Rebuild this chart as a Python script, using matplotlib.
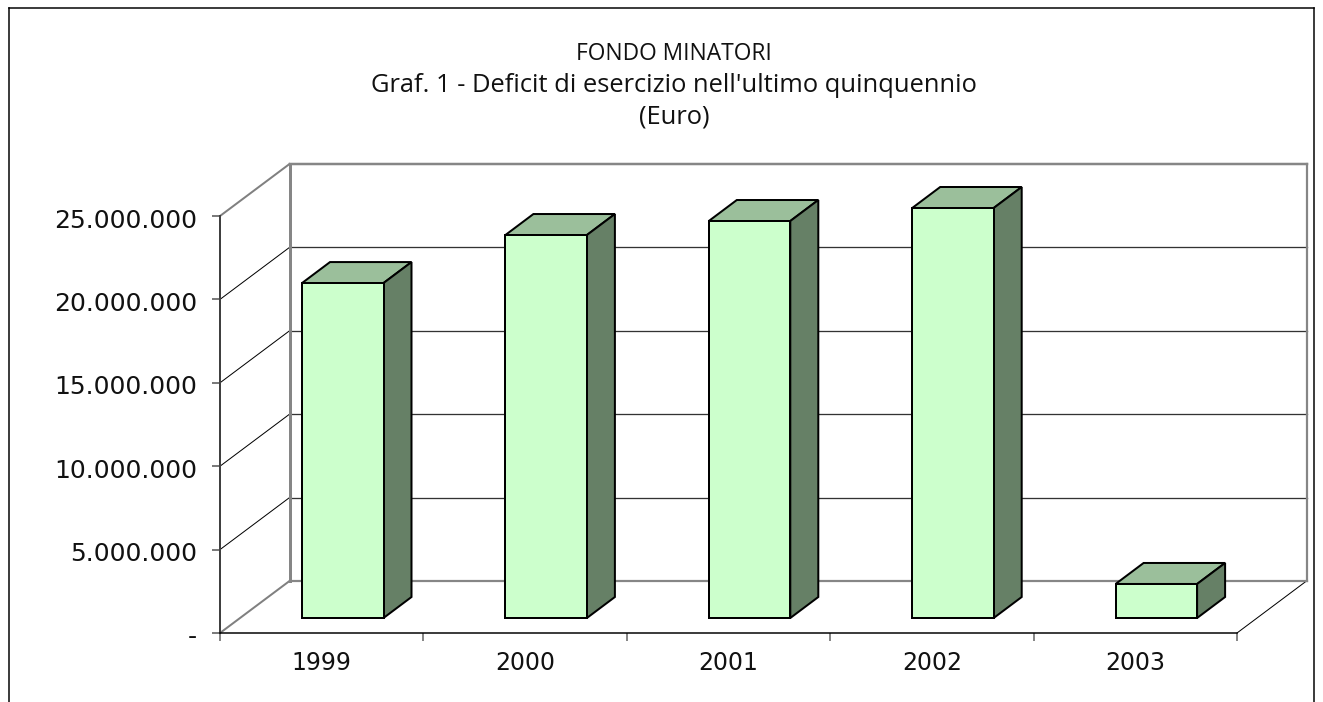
import matplotlib
matplotlib.use('Agg')

from matplotlib import pyplot as plt
from matplotlib.lines import Line2D
from matplotlib.patches import Polygon
from matplotlib.transforms import ScaledTranslation

years = ['1999', '2000', '2001', '2002', '2003']
deficit = [20080000, 22960000, 23800000, 24580000, 2040000]
y_ticks = [0, 5000000, 10000000, 15000000, 20000000, 25000000]
y_labels = ['-', '5.000.000', '10.000.000', '15.000.000', '20.000.000', '25.000.000']
title_lines = ['FONDO MINATORI',
               "Graf. 1 - Deficit di esercizio nell'ultimo quinquennio",
               '(Euro)']

W, H = 1323, 702
px = 0.72  # one pixel in points at dpi 100

fig = plt.figure(figsize=(W / 100, H / 100), dpi=100)
ax = fig.add_axes([220 / W, 1 - 633 / H, 1017 / W, 417 / H])
ax.set_xlim(0, 5)
ax.set_ylim(0, 25000000)

# pixel sizes turned into data units
unit_x = 1017 / 5
unit_y = 417 / 25000000
wall_dx, wall_dy = 69.5 / unit_x, 52 / unit_y
bar_dx, bar_dy = 28 / unit_x, 21 / unit_y
bar_left, bar_w = 82 / unit_x, 81.5 / unit_x
bar_base = 15 / unit_y


def line(xs, ys, color='black', lw=1.0, z=1):
    ax.plot(xs, ys, color=color, lw=lw * px, clip_on=False, zorder=z,
            solid_capstyle='projecting')


# gridlines, back wall and side wall
for v in y_ticks[1:-1]:
    line([0, wall_dx], [v, v + wall_dy], lw=1)
    line([wall_dx, 5 + wall_dx], [v + wall_dy, v + wall_dy], color='#333333', lw=1.3)
line([0, wall_dx], [25000000, 25000000 + wall_dy], color='#808080', lw=2)
line([0, wall_dx], [0, wall_dy], color='#808080', lw=2)
line([5, 5 + wall_dx], [0, wall_dy], lw=1)
line([wall_dx, wall_dx], [wall_dy, 25000000 + wall_dy], color='#868686', lw=3)
line([5 + wall_dx, 5 + wall_dx], [wall_dy, 25000000 + wall_dy], color='#868686', lw=2.2)
line([wall_dx, 5 + wall_dx], [25000000 + wall_dy, 25000000 + wall_dy], color='#868686', lw=2.5)
line([wall_dx, 5 + wall_dx], [wall_dy, wall_dy], color='#868686', lw=2.2)

# the bars, front + top + side
for i, v in enumerate(deficit):
    x0 = i + bar_left
    x1 = x0 + bar_w
    y0 = bar_base
    y1 = bar_base + v
    edge = dict(edgecolor='black', linewidth=2 * px, clip_on=False,
                joinstyle='miter', zorder=3)
    ax.add_patch(Polygon([(x0, y1), (x1, y1), (x1 + bar_dx, y1 + bar_dy), (x0 + bar_dx, y1 + bar_dy)],
                         facecolor='#9BBF9B', **edge))
    ax.add_patch(Polygon([(x1, y0), (x1 + bar_dx, y0 + bar_dy), (x1 + bar_dx, y1 + bar_dy), (x1, y1)],
                         facecolor='#668066', **edge))
    ax.add_patch(Polygon([(x0, y0), (x1, y0), (x1, y1), (x0, y1)],
                         facecolor='#CCFFCC', **edge))

for s in ['top', 'right']:
    ax.spines[s].set_visible(False)
ax.spines['left'].set_color('#404040')
ax.spines['left'].set_linewidth(2 * px)
ax.spines['bottom'].set_color('black')
ax.spines['bottom'].set_linewidth(1.5 * px)
ax.spines['left'].set_zorder(4)
ax.spines['bottom'].set_zorder(4)

ax.set_yticks(y_ticks)
ax.set_yticklabels(y_labels, fontsize=18, color='#111111')
ax.tick_params(axis='y', length=8 * px, width=1.5 * px, color='#505050', pad=15 * px)
ax.set_xticks(range(6))
ax.set_xticklabels([])
ax.tick_params(axis='x', length=8 * px, width=1.5 * px, color='#606060')
ax.set_xticks([i + 0.5 for i in range(5)], minor=True)
ax.set_xticklabels(years, minor=True, fontsize=17, color='#111111')
ax.tick_params(axis='x', which='minor', length=0, pad=18 * px)

shift = ScaledTranslation(0, -2 / 100, fig.dpi_scale_trans)
for lab in ax.get_yticklabels():
    lab.set_transform(lab.get_transform() + shift)

for txt, y, size in zip(title_lines, [60, 92, 123], [16.4, 18.4, 18.4]):
    fig.text(674 / W, 1 - y / H, txt, ha='center', va='baseline', fontsize=size,
             family='Open Sans', color='#111111')

# outer chart frame, its bottom edge lies below the crop
for xs, ys in [([9, 9], [702, 8]), ([9, 1314], [8, 8]), ([1314, 1314], [8, 702])]:
    fig.add_artist(Line2D([x / W for x in xs], [1 - y / H for y in ys], color='black', lw=1.5 * px))

fig.savefig('out.png', dpi=100)
